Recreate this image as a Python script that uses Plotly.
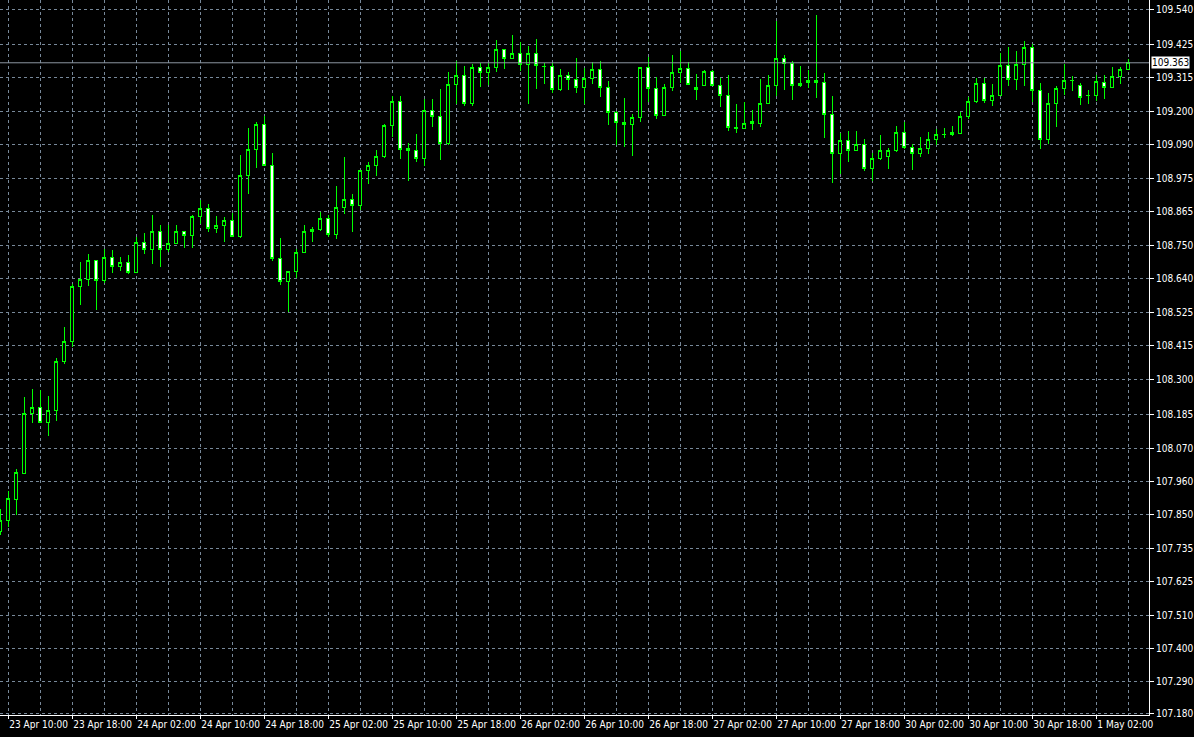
import plotly.graph_objects as go

# ---------------- data ----------------
open_ = [107.791, 107.828, 107.900, 107.986, 108.188, 108.208, 108.156, 108.198, 108.363, 108.429,
         108.614, 108.635, 108.701, 108.633, 108.711, 108.681, 108.694, 108.659, 108.761, 108.738,
         108.798, 108.738, 108.758, 108.798, 108.785, 108.848, 108.875, 108.808, 108.818, 108.835,
         108.781, 108.985, 109.073, 109.157, 109.018, 108.708, 108.631, 108.664, 108.728, 108.798,
         108.803, 108.842, 108.787, 108.879, 108.905, 108.885, 109.003, 109.020, 109.050, 109.153,
         109.234, 109.075, 109.070, 109.041, 109.204, 109.184, 109.093, 109.291, 109.321, 109.226,
         109.348, 109.331, 109.348, 109.408, 109.378, 109.395, 109.358, 109.395, 109.351, 109.351,
         109.273, 109.321, 109.308, 109.280, 109.311, 109.341, 109.280, 109.196, 109.162, 109.155,
         109.180, 109.348, 109.276, 109.186, 109.281, 109.331, 109.345, 109.281, 109.288, 109.334,
         109.286, 109.253, 109.147, 109.143, 109.165, 109.160, 109.227, 109.288, 109.378, 109.361,
         109.294, 109.304, 109.304, 109.298, 109.190, 109.060, 109.103, 109.070, 109.090, 109.009,
         109.043, 109.050, 109.068, 109.130, 109.080, 109.060, 109.076, 109.107, 109.121, 109.130,
         109.125, 109.184, 109.234, 109.294, 109.237, 109.254, 109.355, 109.306, 109.358, 109.415,
         109.271, 109.107, 109.227, 109.277, 109.302, 109.288, 109.253, 109.254, 109.298, 109.281,
         109.318, 109.341]

high = [107.867, 107.929, 108.001, 108.244, 108.269, 108.266, 108.246, 108.372, 108.477, 108.620,
        108.695, 108.722, 108.703, 108.739, 108.735, 108.711, 108.719, 108.778, 108.791, 108.852,
        108.818, 108.818, 108.818, 108.800, 108.852, 108.903, 108.889, 108.848, 108.845, 108.858,
        109.054, 109.144, 109.165, 109.185, 109.061, 108.776, 108.666, 108.738, 108.818, 108.812,
        108.863, 108.853, 108.949, 109.047, 108.922, 109.005, 109.030, 109.070, 109.157, 109.252,
        109.252, 109.093, 109.124, 109.241, 109.242, 109.275, 109.332, 109.369, 109.351, 109.359,
        109.361, 109.361, 109.439, 109.410, 109.456, 109.433, 109.419, 109.443, 109.361, 109.361,
        109.341, 109.331, 109.378, 109.345, 109.365, 109.368, 109.301, 109.202, 109.246, 109.190,
        109.350, 109.381, 109.314, 109.291, 109.388, 109.402, 109.365, 109.324, 109.338, 109.338,
        109.311, 109.321, 109.225, 109.233, 109.204, 109.308, 109.321, 109.502, 109.388, 109.368,
        109.351, 109.338, 109.523, 109.328, 109.251, 109.127, 109.133, 109.133, 109.106, 109.060,
        109.120, 109.076, 109.150, 109.164, 109.090, 109.113, 109.130, 109.140, 109.143, 109.150,
        109.197, 109.247, 109.311, 109.311, 109.291, 109.395, 109.415, 109.402, 109.435, 109.425,
        109.294, 109.261, 109.284, 109.358, 109.318, 109.294, 109.271, 109.321, 109.321, 109.348,
        109.348, 109.375]

low = [107.780, 107.808, 107.847, 107.986, 108.156, 108.156, 108.113, 108.163, 108.354, 108.409,
       108.551, 108.616, 108.534, 108.624, 108.659, 108.666, 108.656, 108.657, 108.721, 108.690,
       108.679, 108.728, 108.755, 108.741, 108.741, 108.822, 108.795, 108.791, 108.761, 108.778,
       108.777, 108.924, 109.011, 109.016, 108.700, 108.619, 108.529, 108.643, 108.726, 108.763,
       108.800, 108.778, 108.773, 108.857, 108.797, 108.870, 108.957, 108.984, 109.045, 109.115,
       109.040, 108.968, 109.031, 109.018, 109.149, 109.038, 109.086, 109.226, 109.219, 109.219,
       109.283, 109.289, 109.331, 109.341, 109.376, 109.334, 109.226, 109.276, 109.291, 109.263,
       109.269, 109.273, 109.263, 109.226, 109.293, 109.249, 109.155, 109.088, 109.082, 109.052,
       109.166, 109.233, 109.176, 109.184, 109.269, 109.294, 109.288, 109.239, 109.284, 109.284,
       109.216, 109.135, 109.129, 109.140, 109.137, 109.148, 109.225, 109.253, 109.273, 109.239,
       109.281, 109.277, 109.246, 109.112, 108.961, 108.991, 109.031, 109.068, 109.001, 108.968,
       109.036, 109.008, 109.063, 109.073, 109.004, 109.046, 109.056, 109.086, 109.110, 109.117,
       109.125, 109.174, 109.227, 109.227, 109.217, 109.252, 109.284, 109.271, 109.284, 109.231,
       109.073, 109.090, 109.149, 109.254, 109.267, 109.220, 109.224, 109.234, 109.241, 109.278,
       109.291, 109.341]

close = [107.830, 107.903, 107.990, 108.188, 108.208, 108.156, 108.198, 108.363, 108.429, 108.614,
         108.635, 108.701, 108.633, 108.711, 108.681, 108.694, 108.659, 108.761, 108.738, 108.798,
         108.738, 108.758, 108.798, 108.785, 108.848, 108.875, 108.808, 108.818, 108.835, 108.781,
         108.985, 109.073, 109.157, 109.018, 108.708, 108.629, 108.664, 108.728, 108.798, 108.803,
         108.842, 108.787, 108.879, 108.905, 108.885, 109.003, 109.020, 109.050, 109.153, 109.234,
         109.073, 109.070, 109.041, 109.204, 109.184, 109.093, 109.291, 109.321, 109.226, 109.348,
         109.331, 109.348, 109.408, 109.378, 109.395, 109.358, 109.395, 109.355, 109.352, 109.273,
         109.321, 109.308, 109.280, 109.311, 109.341, 109.280, 109.196, 109.162, 109.155, 109.180,
         109.348, 109.276, 109.186, 109.281, 109.331, 109.345, 109.290, 109.273, 109.334, 109.286,
         109.253, 109.147, 109.143, 109.160, 109.158, 109.227, 109.288, 109.378, 109.361, 109.286,
         109.286, 109.298, 109.298, 109.190, 109.060, 109.103, 109.070, 109.090, 109.009, 109.043,
         109.070, 109.070, 109.130, 109.080, 109.060, 109.076, 109.107, 109.123, 109.123, 109.123,
         109.184, 109.234, 109.294, 109.237, 109.254, 109.355, 109.308, 109.358, 109.415, 109.271,
         109.107, 109.227, 109.277, 109.304, 109.304, 109.247, 109.254, 109.301, 109.281, 109.318,
         109.341, 109.363]

time_labels = ["23 Apr 10:00", "23 Apr 18:00", "24 Apr 02:00", "24 Apr 10:00", "24 Apr 18:00",
               "25 Apr 02:00", "25 Apr 10:00", "25 Apr 18:00", "26 Apr 02:00", "26 Apr 10:00",
               "26 Apr 18:00", "27 Apr 02:00", "27 Apr 10:00", "27 Apr 18:00", "30 Apr 02:00",
               "30 Apr 10:00", "30 Apr 18:00", "1 May 02:00"]

price_ticks = [109.540, 109.425, 109.315, 109.200, 109.090, 108.975, 108.865, 108.750,
               108.640, 108.525, 108.415, 108.300, 108.185, 108.070, 107.960, 107.850,
               107.735, 107.625, 107.510, 107.400, 107.290, 107.180]

last_price = 109.363

# ---------------- figure ----------------
bar_index = list(range(len(open_)))          # one bar per trading hour
label_index = [1 + 8 * k for k in range(len(time_labels))]  # labelled bars (every 8 h)

GRID = "#778899"
FAMILY = "Liberation Sans Narrow, DejaVu Sans Condensed, Arial Narrow, sans-serif"
FONT = dict(family=FAMILY, size=10, color="white")

fig = go.Figure(go.Candlestick(
    x=bar_index, open=open_, high=high, low=low, close=close,
    increasing=dict(line=dict(color="#00FF00", width=1), fillcolor="#000000"),
    decreasing=dict(line=dict(color="#00FF00", width=1), fillcolor="#FFFFFF"),
    whiskerwidth=0, hoverinfo="skip", showlegend=False,
))

fig.add_shape(type="line", xref="paper", x0=0, x1=1, yref="y", y0=last_price, y1=last_price,
              line=dict(color="#8C96A0", width=1), layer="above")
fig.add_annotation(xref="paper", x=1, xanchor="left", xshift=2, yref="y", y=last_price,
                   text=f"{last_price:.3f}", showarrow=False, bgcolor="white",
                   font=dict(family=FAMILY, size=10, color="black"), borderpad=0)

fig.update_layout(
    width=1194, height=737,
    margin=dict(l=0, r=45, t=0, b=22, pad=0),
    paper_bgcolor="black", plot_bgcolor="black",
    font=FONT, showlegend=False, boxgap=0.45,
    xaxis=dict(
        range=[-0.0375, 143.5875], rangeslider=dict(visible=False),
        tickmode="array", tickvals=label_index, ticktext=time_labels, tickangle=0,
        ticks="outside", ticklen=3, tickcolor="white", ticklabelposition="outside right",
        showline=True, linecolor="white", linewidth=1,
        showgrid=True, gridcolor=GRID, griddash="dot", gridwidth=1,
        minor=dict(tickmode="linear", tick0=1, dtick=4, showgrid=True,
                   gridcolor=GRID, griddash="dot", gridwidth=1, ticks=""),
        zeroline=False, automargin=False, fixedrange=True,
    ),
    yaxis=dict(
        side="right", range=[107.1766, 109.5735],
        tickmode="array", tickvals=price_ticks, ticktext=[f"{v:.3f}" for v in price_ticks],
        ticks="outside", ticklen=4, tickcolor="white",
        showline=True, linecolor="white", linewidth=1,
        showgrid=True, gridcolor=GRID, griddash="dot", gridwidth=1,
        zeroline=False, automargin=False, fixedrange=True,
    ),
)

fig.write_html(
    "out.html",
    config={"displayModeBar": False},
    post_script=(
        "document.body.style.margin='0';document.body.style.overflow='hidden';"
        "document.querySelectorAll('g.trace.boxes path').forEach(function(p){"
        "p.style.shapeRendering='crispEdges';});"
    ),
)
